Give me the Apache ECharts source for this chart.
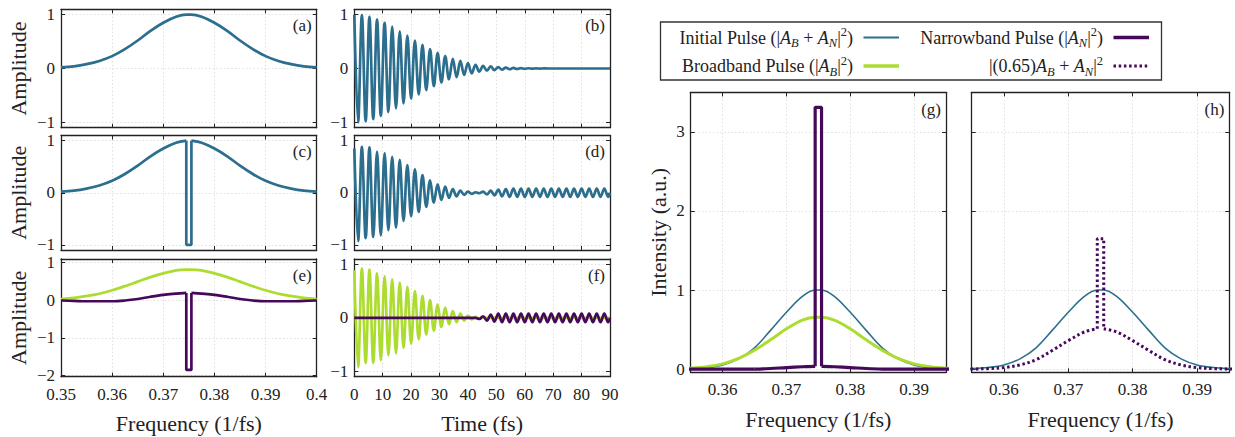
<!DOCTYPE html>
<html><head><meta charset="utf-8">
<script src="https://cdn.jsdelivr.net/npm/echarts@6/dist/echarts.min.js"></script>
<style>html,body{margin:0;padding:0;background:#fff}#c{width:1235px;height:437px}</style>
</head><body><div id="c"></div>
<script>
// ---------- DATA ----------
// frequency samples (1/fs); 0.3745 / 0.3755 are the edges of the narrow notch
const freq = [0.35,0.3525,0.355,0.3575,0.36,0.3625,0.365,0.3675,0.37,0.3725,0.3745,0.375,0.3755,0.3775,0.38,0.3825,0.385,0.3875,0.39,0.3925,0.395,0.3975,0.40];
// (a)/(c) spectral amplitude of the initial pulse
const ampInitial = [0.02,0.04,0.08,0.14,0.23,0.36,0.52,0.70,0.85,0.96,1.00,1.00,1.00,0.96,0.85,0.70,0.52,0.36,0.23,0.14,0.08,0.04,0.02];
const notchDepthC = -1.00;
// (e) broadband / narrowband spectral amplitude
const ampBroad  = [0.03,0.06,0.11,0.17,0.26,0.37,0.49,0.61,0.71,0.79,0.81,0.81,0.81,0.79,0.71,0.61,0.49,0.37,0.26,0.17,0.11,0.06,0.03];
const ampNarrow = [-0.01,-0.02,-0.03,-0.03,-0.03,-0.01,0.03,0.09,0.14,0.17,0.19,0.19,0.19,0.17,0.14,0.09,0.03,-0.01,-0.03,-0.03,-0.03,-0.02,-0.01];
const notchDepthE = -1.85;
// (g)/(h) intensities
const intensInitial = [0.0004,0.0016,0.0064,0.02,0.053,0.13,0.27,0.49,0.72,0.92,1.00,1.00,1.00,0.92,0.72,0.49,0.27,0.13,0.053,0.02,0.0064,0.0016,0.0004];
const intensBroad   = [0.001,0.004,0.011,0.029,0.067,0.135,0.24,0.37,0.51,0.62,0.656,0.656,0.656,0.62,0.51,0.37,0.24,0.135,0.067,0.029,0.011,0.004,0.001];
const intensNarrow  = [0,0,0.001,0.001,0.001,0,0.001,0.008,0.02,0.03,0.036,0.036,0.036,0.03,0.02,0.008,0.001,0,0.001,0.001,0.001,0,0];
const spikeNarrow = 3.31;
const intensMix     = [0.0001,0.0005,0.002,0.0064,0.02,0.053,0.12,0.236,0.36,0.47,0.51,0.51,0.51,0.47,0.36,0.236,0.12,0.053,0.02,0.0064,0.002,0.0005,0.0001];
const spikeMix = 1.65;

// time samples (fs) at the oscillation extrema
const timeExt = [0,1.33,2.67,4,5.33,6.67,8,9.33,10.67,12,13.33,14.67,16,17.33,18.67,20,21.33,22.67,24,25.33,26.67,28,29.33,30.67,32,33.33,34.67,36,37.33,38.67,40,41.33,42.67,44,45.33,46.67,48,49.33,50.67,52,53.33,54.67,56,57.33,58.67,60,61.33,62.67,64,65.33,66.67,68,69.33,70.67,72,73.33,74.67,76,77.33,78.67,80,81.33,82.67,84,85.33,86.67,88,89.33,90];
// (b) initial pulse in time
const pulseB = [1.00,-1.00,0.99,-0.98,0.96,-0.94,0.91,-0.88,0.85,-0.81,0.78,-0.74,0.69,-0.65,0.61,-0.56,0.52,-0.48,0.44,-0.40,0.36,-0.33,0.29,-0.26,0.23,-0.20,0.18,-0.16,0.14,-0.12,0.10,-0.09,0.07,-0.06,0.05,-0.04,0.04,-0.03,0.025,-0.02,0.017,-0.014,0.011,-0.009,0.007,-0.006,0.005,-0.004,0.003,-0.002,0.002,0,0,0,0,0,0,0,0,0,0,0,0,0,0,0,0,0,0];
// (d) notched pulse in time
const pulseD = [0.85,-0.93,0.88,-0.87,0.87,-0.85,0.79,-0.82,0.76,-0.72,0.69,-0.67,0.63,-0.54,0.53,-0.45,0.45,-0.37,0.34,-0.27,0.24,-0.19,0.16,-0.14,0.12,-0.10,0.07,-0.07,0.04,-0.04,0.02,-0.02,0.01,-0.01,0.02,-0.03,0.04,-0.05,0.06,-0.07,0.07,-0.08,0.08,-0.08,0.08,-0.08,0.08,-0.08,0.08,-0.08,0.08,-0.08,0.08,-0.08,0.08,-0.08,0.08,-0.08,0.08,-0.08,0.08,-0.08,0.08,-0.08,0.08,-0.08,0.08,-0.08,0];
// (f) broadband and narrowband pulses in time
const pulseBroad = [0.89,-0.92,0.92,-0.84,0.90,-0.84,0.83,-0.79,0.78,-0.70,0.72,-0.66,0.66,-0.56,0.58,-0.48,0.50,-0.40,0.41,-0.31,0.33,-0.24,0.25,-0.17,0.19,-0.12,0.125,-0.08,0.08,-0.05,0.04,-0.03,0.02,-0.01,0.005,0,0,0,0,0,0,0,0,0,0,0,0,0,0,0,0,0,0,0,0,0,0,0,0,0,0,0,0,0,0,0,0,0,0];
const pulseNarrow = [0,0,0,0,0,0,0,0,0,0,0,0,0,0,0,0,0,0,0,0,0,0,0,0,0,0,0,0,0,0,0,0,0,-0.02,0.03,-0.05,0.06,-0.07,0.08,-0.08,0.08,-0.08,0.08,-0.08,0.08,-0.08,0.08,-0.08,0.08,-0.08,0.08,-0.08,0.08,-0.08,0.08,-0.08,0.08,-0.08,0.08,-0.08,0.08,-0.08,0.08,-0.08,0.08,-0.08,0.08,-0.08,0];

// ---------- STYLE ----------
const FONT = "'Liberation Serif','DejaVu Serif',serif";
const C_BLUE = '#2c6e8e', C_GREEN = '#addc30', C_PURPLE = '#46085a', INK = '#222';

const panels = [ // a c e b d f g h
 {tag:'(a)', box:[61,9.3,255.7,118.4],  x:{min:0.35,max:0.40,interval:0.01,step:0.01}, y:{min:-1.1,max:1.1,splitNumber:2}, xl:false, yl:true, yName:'Amplitude'},
 {tag:'(c)', box:[61,135.5,255.7,114.5],x:{min:0.35,max:0.40,interval:0.01,step:0.01}, y:{min:-1.1,max:1.1,splitNumber:2}, xl:false, yl:true, yName:'Amplitude'},
 {tag:'(e)', box:[61,259,255.7,117.7],  x:{min:0.35,max:0.40,interval:0.01,step:0.01}, y:{min:-2.03,max:1.09,splitNumber:3}, xl:true, yl:true, yName:'Amplitude', xName:'Frequency (1/fs)'},
 {tag:'(b)', box:[354.3,9.3,255.7,118.4],  x:{min:0,max:90,interval:10,step:10}, y:{min:-1.1,max:1.1,splitNumber:2}, xl:false, yl:true},
 {tag:'(d)', box:[354.3,135.5,255.7,114.5],x:{min:0,max:90,interval:10,step:10}, y:{min:-1.1,max:1.1,splitNumber:2}, xl:false, yl:true},
 {tag:'(f)', box:[354.3,259,255.7,117.7],  x:{min:0,max:90,interval:10,step:10}, y:{min:-1.1,max:1.1,splitNumber:2}, xl:true, yl:true, xName:'Time (fs)'},
 {tag:'(g)', box:[690.7,92.3,255.3,280], x:{min:0.355,max:0.395,splitNumber:4,step:0.01}, y:{min:-0.04,max:3.5,splitNumber:4}, xl:true, yl:true, yName:'Intensity (a.u.)', yGap:21, xName:'Frequency (1/fs)'},
 {tag:'(h)', box:[971.7,92.3,257.6,280], x:{min:0.355,max:0.395,splitNumber:4,step:0.01}, y:{min:-0.04,max:3.5,splitNumber:4}, xl:true, yl:false, xName:'Frequency (1/fs)'}
];

function fmt(v, step){
  const r = Math.round(v/step)*step;
  if (Math.abs(v-r) > step*1e-3) return '';
  return String(+r.toFixed(4)).replace('-', '\u2212');
}
const tick = {show:true, inside:true, length:4, lineStyle:{color:INK, width:1}};
const frame = {show:true, onZero:false, lineStyle:{color:INK, width:1.3}};
const split = {show:true, lineStyle:{color:'#d8d8d8', width:0.8, type:[1.5,2.2]}};
const nameStyle = {fontSize:22, fontFamily:FONT, color:INK};
const TICKFS = 17;

const grid=[], xAxis=[], yAxis=[], graphic=[];
panels.forEach((p,i)=>{
  grid.push({left:p.box[0], top:p.box[1], width:p.box[2], height:p.box[3], containLabel:false});
  const xr = {min:p.x.min, max:p.x.max};
  if (p.x.interval) xr.interval = p.x.interval; else xr.splitNumber = p.x.splitNumber;
  const yr = {min:p.y.min, max:p.y.max, splitNumber:p.y.splitNumber};
  xAxis.push(Object.assign({type:'value', gridIndex:i, position:'bottom', axisLine:frame, axisTick:tick, splitLine:split,
    axisLabel:{show:p.xl, margin:9, fontSize:TICKFS, fontFamily:FONT, color:INK, showMinLabel:true, showMaxLabel:true, formatter:v=>fmt(v,p.x.step)},
    name:p.xName||'', nameLocation:'middle', nameGap:36, nameTextStyle:nameStyle}, xr));
  xAxis.push(Object.assign({type:'value', gridIndex:i, position:'top', axisLine:frame, axisTick:tick, splitLine:{show:false}, axisLabel:{show:false}}, xr));
  yAxis.push(Object.assign({type:'value', gridIndex:i, position:'left', axisLine:frame, axisTick:tick, splitLine:split,
    axisLabel:{show:p.yl, margin:6, fontSize:TICKFS, fontFamily:FONT, color:INK, formatter:v=>fmt(v,1)},
    name:p.yName||'', nameLocation:'middle', nameGap:p.yGap||32, nameTextStyle:nameStyle}, yr));
  yAxis.push(Object.assign({type:'value', gridIndex:i, position:'right', axisLine:frame, axisTick:tick, splitLine:{show:false}, axisLabel:{show:false}}, yr));
  graphic.push({type:'text', x:p.box[0]+p.box[2]-5, y:p.box[1]+(i>=6?17:16), z:100,
    style:{text:p.tag, fontSize:17, fontFamily:FONT, fill:INK, align:'right', verticalAlign:'middle'}});
});

function pairs(xs, ys){ return xs.map((x,k)=>[x, ys[k]]); }
const iL = freq.indexOf(0.3745), iR = freq.indexOf(0.3755);
function ln(gi, data, color, width, extra){
  return Object.assign({type:'line', xAxisIndex:2*gi, yAxisIndex:2*gi, data, showSymbol:false, symbol:'none',
    smooth:0.35, lineStyle:{color, width}, itemStyle:{color}, animation:false, silent:true, clip:true}, extra||{});
}
// a notched spectrum: smooth left part, straight notch, smooth right part
function notched(gi, vals, depth, color, width, extra){
  const left = pairs(freq.slice(0,iL+1), vals.slice(0,iL+1));
  const right = pairs(freq.slice(iR), vals.slice(iR));
  const notch = [[freq[iL], vals[iL]],[freq[iL], depth],[freq[iR], depth],[freq[iR], vals[iR]]];
  return [ln(gi,left,color,width,extra), ln(gi,notch,color,width,Object.assign({smooth:false},extra||{})), ln(gi,right,color,width,extra)];
}
const W = 2.7;
const sT = {smooth:0.36};
const series = [
  ln(0, pairs(freq, ampInitial), C_BLUE, W),
  ...notched(1, ampInitial, notchDepthC, C_BLUE, W),
  ln(2, pairs(freq, ampBroad), C_GREEN, W),
  ...notched(2, ampNarrow, notchDepthE, C_PURPLE, W),
  ln(3, pairs(timeExt, pulseB), C_BLUE, W, sT),
  ln(4, pairs(timeExt, pulseD), C_BLUE, W, sT),
  ln(5, pairs(timeExt, pulseBroad), C_GREEN, W, sT),
  ln(5, pairs(timeExt, pulseNarrow), C_PURPLE, W, sT),
  ln(6, pairs(freq, intensInitial), C_BLUE, 1.6),
  ln(6, pairs(freq, intensBroad), C_GREEN, 3),
  ...notched(6, intensNarrow, spikeNarrow, C_PURPLE, 3.2),
  ln(7, pairs(freq, intensInitial), C_BLUE, 1.6),
  ...notched(7, intensMix, spikeMix, C_PURPLE, 3, {lineStyle:{color:C_PURPLE, width:3, type:[2.5,2.7]}})
];

// legend (drawn as graphic so the columns are right-aligned like the reference)
const LFS = 18, SFS = 12.5;
const rich = {
  n:{fontSize:LFS, fontFamily:FONT, fill:INK, color:INK, lineHeight:24},
  i:{fontSize:LFS, fontFamily:FONT, fontStyle:'italic', fill:INK, color:INK, lineHeight:24},
  s:{fontSize:SFS, fontFamily:FONT, fontStyle:'italic', fill:INK, color:INK, lineHeight:12, verticalAlign:'bottom'},
  p:{fontSize:SFS, fontFamily:FONT, fill:INK, color:INK, lineHeight:12, verticalAlign:'top'}
};
const legendItems = [
  {text:'{n|Initial Pulse (|}{i|A}{s|B}{n| + }{i|A}{s|N}{n||}{p|2}{n|)}', x:853, y:37.5, color:C_BLUE, width:2, dash:null},
  {text:'{n|Narrowband Pulse (|}{i|A}{s|N}{n||}{p|2}{n|)}', x:1103, y:37.5, color:C_PURPLE, width:3.5, dash:null},
  {text:'{n|Broadband Pulse (|}{i|A}{s|B}{n||}{p|2}{n|)}', x:853, y:66, color:C_GREEN, width:3.5, dash:null},
  {text:'{n||(0.65)}{i|A}{s|B}{n| + }{i|A}{s|N}{n||}{p|2}', x:1103, y:66, color:C_PURPLE, width:3, dash:[2.5,2.7]}
];
graphic.push({type:'rect', z:100, shape:{x:660.5, y:22, width:501, height:58}, style:{fill:'#fff', stroke:'#333', lineWidth:1.3}});
legendItems.forEach(it=>{
  graphic.push({type:'text', z:101, x:it.x, y:it.y, style:{text:it.text, rich, align:'right', verticalAlign:'middle', fontSize:LFS, fontFamily:FONT, fill:INK}});
  graphic.push({type:'line', z:101, shape:{x1:it.x+10.5, y1:it.y, x2:it.x+46, y2:it.y}, style:{stroke:it.color, lineWidth:it.width, lineDash:it.dash}});
});

const chart = echarts.init(document.getElementById('c'), null, {renderer:'svg'});
chart.setOption({animation:false, backgroundColor:'#fff', grid, xAxis, yAxis, series, graphic});
</script></body></html>
